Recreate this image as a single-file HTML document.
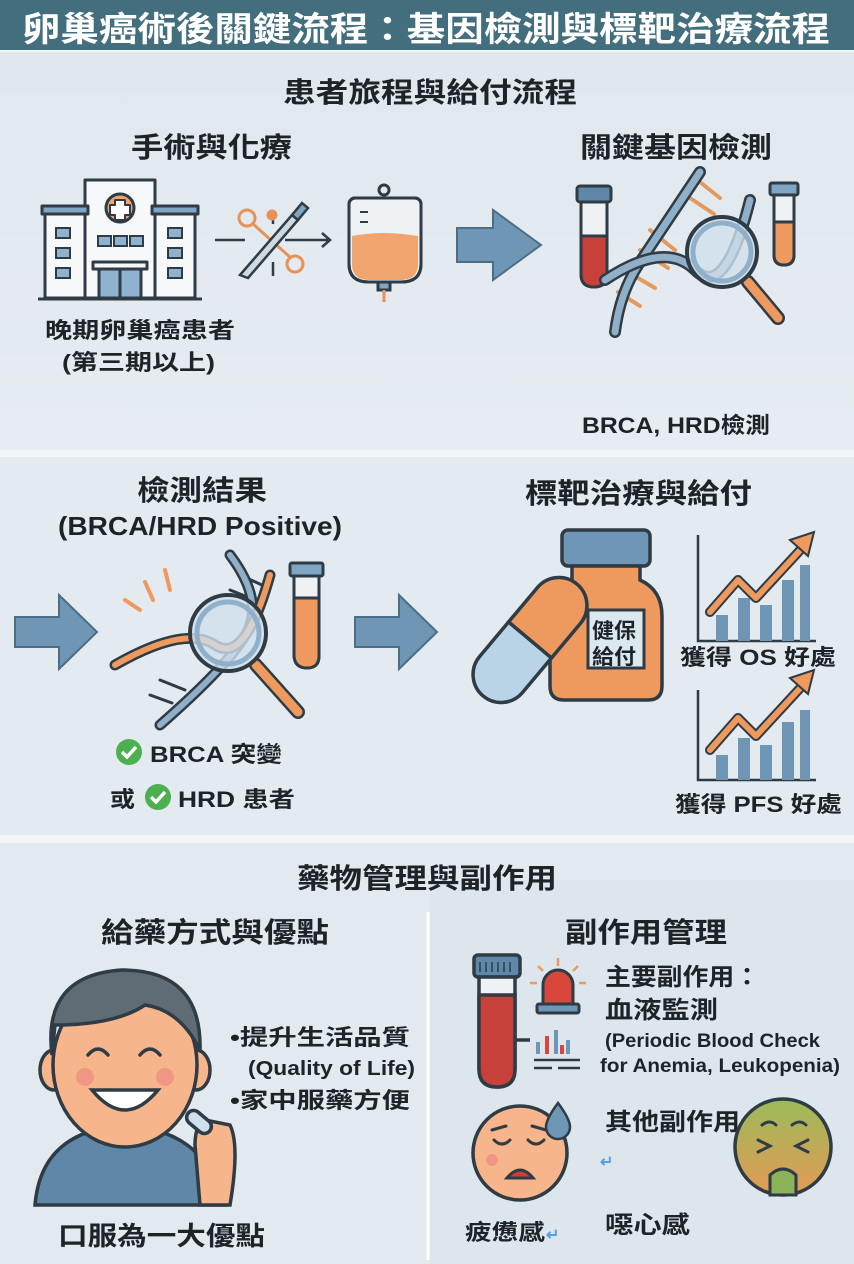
<!DOCTYPE html>
<html><head><meta charset="utf-8"><style>
html,body{margin:0;padding:0;background:#f3f6f8}
svg{display:block}
text{font-family:"Liberation Sans","Noto Sans CJK TC",sans-serif;font-weight:bold;fill:#1e2328}
</style></head><body>
<svg width="854" height="1264" viewBox="0 0 854 1264" xmlns="http://www.w3.org/2000/svg">
<defs>
<linearGradient id="g1" x1="0" y1="0" x2="0" y2="1"><stop offset="0" stop-color="#e0e8ee"/><stop offset="1" stop-color="#e6ecf1"/></linearGradient>
<linearGradient id="nau" x1="0" y1="0" x2="0" y2="1"><stop offset="0" stop-color="#9cbb5a"/><stop offset="1" stop-color="#e39a55"/></linearGradient>
</defs>
<rect x="0" y="0" width="854" height="1264" fill="#f3f6f8"/>
<!-- header -->
<rect x="0" y="0" width="854" height="50" fill="#426e7e"/>
<text x="22" y="41" font-size="34" fill="#fff" style="fill:#fff" textLength="808" lengthAdjust="spacingAndGlyphs">卵巢癌術後關鍵流程：基因檢測與標靶治療流程</text>
<!-- panels -->
<rect x="0" y="52" width="854" height="398" fill="url(#g1)"/>
<rect x="0" y="457" width="854" height="378" fill="#e3eaf0"/>
<rect x="0" y="843" width="854" height="421" fill="#e2e9ef"/>
<rect x="430" y="880" width="424" height="384" fill="#dde6ed"/>

<!-- Panel 1 texts -->
<text x="283" y="102" font-size="28" textLength="294" lengthAdjust="spacingAndGlyphs">患者旅程與給付流程</text>
<text x="131" y="157" font-size="28" textLength="161" lengthAdjust="spacingAndGlyphs">手術與化療</text>
<text x="580" y="157" font-size="28" textLength="192" lengthAdjust="spacingAndGlyphs">關鍵基因檢測</text>
<text x="45" y="338" font-size="22" textLength="190" lengthAdjust="spacingAndGlyphs">晚期卵巢癌患者</text>
<text x="62" y="370" font-size="22" textLength="153" lengthAdjust="spacingAndGlyphs">(第三期以上)</text>
<text x="582" y="433" font-size="22" textLength="188" lengthAdjust="spacingAndGlyphs">BRCA, HRD檢測</text>

<!-- hospital -->
<g stroke="#2f3b45" stroke-width="3" stroke-linejoin="round">
<rect x="85" y="180" width="70" height="118" fill="#f6f8fa"/>
<rect x="45" y="212" width="40" height="86" fill="#f6f8fa"/>
<rect x="155" y="212" width="40" height="86" fill="#f6f8fa"/>
<rect x="42" y="206" width="46" height="8" fill="#7fa6c4"/>
<rect x="152" y="206" width="46" height="8" fill="#7fa6c4"/>
<circle cx="120" cy="208" r="14" fill="#f0a46e"/>
<path d="M115 200h10v5h5v10h-5v5h-10v-5h-5v-10h5z" fill="#fff" stroke-width="2"/>
<rect x="99" y="268" width="42" height="30" fill="#8fb3cf"/>
<rect x="93" y="262" width="54" height="7" fill="#f6f8fa"/>
<line x1="120" y1="268" x2="120" y2="298"/>
<line x1="38" y1="299" x2="202" y2="299"/>
</g>
<g fill="#8fb3cf" stroke="#2f3b45" stroke-width="2">
<rect x="56" y="228" width="14" height="10"/><rect x="56" y="248" width="14" height="10"/><rect x="56" y="268" width="14" height="10"/>
<rect x="168" y="228" width="14" height="10"/><rect x="168" y="248" width="14" height="10"/><rect x="168" y="268" width="14" height="10"/>
<rect x="98" y="236" width="13" height="10"/><rect x="114" y="236" width="13" height="10"/><rect x="130" y="236" width="13" height="10"/>
</g>
<!-- scissors/scalpel -->
<g stroke="#2f3b45" stroke-width="2.5" fill="none">
<line x1="215" y1="240" x2="245" y2="240"/>
<line x1="285" y1="240" x2="330" y2="240"/><path d="M322 233l8 7-8 7"/>
<line x1="273" y1="210" x2="273" y2="224"/><line x1="273" y1="262" x2="273" y2="276"/>
</g>
<g stroke="#e8925a" stroke-width="3" fill="none">
<circle cx="247" cy="218" r="8"/><circle cx="295" cy="264" r="8"/>
<path d="M253 224l38 34"/><circle cx="272" cy="215" r="4" fill="#e8925a"/>
</g>
<path d="M240 275l52-60 6 5-50 58z" fill="#cfd9e2" stroke="#2f3b45" stroke-width="2.5"/>
<path d="M292 215l10-12 6 5-10 12z" fill="#7fa6c4" stroke="#2f3b45" stroke-width="2.5"/>
<!-- IV bag -->
<g stroke="#2f3b45" stroke-width="3">
<circle cx="384" cy="190" r="5" fill="none"/>
<path d="M355 198h60a6 6 0 0 1 6 6v60q0 18-20 18h-32q-20 0-20-18v-60a6 6 0 0 1 6-6z" fill="#eef2f5"/>
<path d="M352 236q30-6 66 0v28q0 16-18 16h-30q-18 0-18-16z" fill="#f0a46e" stroke="none"/>
<path d="M355 198h60a6 6 0 0 1 6 6v60q0 18-20 18h-32q-20 0-20-18v-60a6 6 0 0 1 6-6z" fill="none"/>
<rect x="378" y="282" width="12" height="8" fill="#7fa6c4"/>
<line x1="384" y1="290" x2="384" y2="302" stroke="#e8925a"/>
<line x1="360" y1="212" x2="368" y2="212" stroke-width="2"/><line x1="360" y1="222" x2="368" y2="222" stroke-width="2"/>
</g>
<!-- big arrow -->
<path d="M457 228h36v-18l48 35-48 35v-18h-36z" fill="#6f96b4" stroke="#4b6e88" stroke-width="2"/>
<!-- test tube left -->
<g stroke="#2f3b45" stroke-width="3">
<rect x="577" y="186" width="34" height="16" rx="3" fill="#5e87a8"/>
<path d="M581 202h26v72q0 13-13 13t-13-13z" fill="#eef2f5"/>
<path d="M581 236h26v38q0 13-13 13t-13-13z" fill="#c8403a"/>
</g>
<!-- dna + magnifier 1 -->
<g fill="none" stroke-linecap="round">
<g stroke="#e39a5e" stroke-width="4">
<line x1="650" y1="230" x2="675" y2="250"/><line x1="640" y1="250" x2="668" y2="268"/><line x1="628" y1="272" x2="655" y2="288"/><line x1="618" y1="292" x2="640" y2="306"/>
<line x1="690" y1="198" x2="714" y2="214"/><line x1="700" y1="182" x2="720" y2="198"/>
</g>
<path d="M700 172q-40 60-60 90t-25 70" stroke="#2f3b45" stroke-width="12"/>
<path d="M700 172q-40 60-60 90t-25 70" stroke="#8fb0c8" stroke-width="7"/>
<path d="M605 280q60-40 90-10t55 -70" stroke="#2f3b45" stroke-width="12"/>
<path d="M605 280q60-40 90-10t55 -70" stroke="#8fb0c8" stroke-width="7"/>
<line x1="748" y1="282" x2="778" y2="318" stroke="#2f3b45" stroke-width="14"/>
<line x1="748" y1="282" x2="778" y2="318" stroke="#ee9a5e" stroke-width="9"/>
</g>
<circle cx="722" cy="252" r="35" fill="#cfe0ec" fill-opacity="0.8" stroke="#2f3b45" stroke-width="4"/>
<circle cx="722" cy="252" r="29" fill="none" stroke="#8fb0c8" stroke-width="5"/>
<g stroke="#2f3b45" stroke-width="3">
<rect x="770" y="183" width="28" height="12" rx="2" fill="#7fa6c4"/>
<path d="M774 195h20v60q0 10-10 10t-10-10z" fill="#eef2f5"/>
<path d="M774 222h20v33q0 10-10 10t-10-10z" fill="#ee9a5e"/>
</g>

<!-- Panel 2 texts -->
<text x="137" y="500" font-size="28" textLength="130" lengthAdjust="spacingAndGlyphs">檢測結果</text>
<text x="58" y="535" font-size="26" textLength="284" lengthAdjust="spacingAndGlyphs">(BRCA/HRD Positive)</text>
<text x="525" y="503" font-size="28" textLength="227" lengthAdjust="spacingAndGlyphs">標靶治療與給付</text>
<!-- arrows -->
<path d="M15 617h44v-22l38 37-38 37v-22h-44z" fill="#6f96b4" stroke="#4b6e88" stroke-width="2"/>
<path d="M355 617h44v-22l38 37-38 37v-22h-44z" fill="#6f96b4" stroke="#4b6e88" stroke-width="2"/>
<!-- dna 2 -->
<g stroke="#ee9a5e" stroke-width="4" stroke-linecap="round">
<line x1="145" y1="582" x2="153" y2="600"/><line x1="125" y1="600" x2="140" y2="610"/><line x1="165" y1="570" x2="170" y2="590"/>
</g>
<g fill="none" stroke-linecap="round">
<g stroke="#2f3b45" stroke-width="3"><line x1="160" y1="680" x2="185" y2="690"/><line x1="150" y1="695" x2="172" y2="703"/><line x1="230" y1="590" x2="255" y2="600"/><line x1="240" y1="575" x2="262" y2="585"/></g>
<path d="M230 555q30 40 20 70t-90 100" stroke="#2f3b45" stroke-width="11"/>
<path d="M230 555q30 40 20 70t-90 100" stroke="#8fb0c8" stroke-width="6"/>
<path d="M115 665q70-40 100 -20t55-70" stroke="#2f3b45" stroke-width="11"/>
<path d="M115 665q70-40 100 -20t55-70" stroke="#ee9a5e" stroke-width="6"/>
<line x1="256" y1="665" x2="298" y2="712" stroke="#2f3b45" stroke-width="14"/>
<line x1="256" y1="665" x2="298" y2="712" stroke="#ee9a5e" stroke-width="9"/>
</g>
<circle cx="228" cy="633" r="38" fill="#cfe0ec" fill-opacity="0.8" stroke="#2f3b45" stroke-width="4"/>
<circle cx="228" cy="633" r="31" fill="none" stroke="#8fb0c8" stroke-width="5"/>
<g stroke="#2f3b45" stroke-width="3">
<rect x="290" y="563" width="33" height="13" rx="2" fill="#7fa6c4"/>
<path d="M294 576h25v80q0 12-12 12t-13-12z" fill="#eef2f5"/>
<path d="M294 598h25v58q0 12-12 12t-13-12z" fill="#ee9a5e"/>
</g>
<!-- checks -->
<circle cx="129" cy="752" r="13" fill="#4caf50"/><path d="M122 752l5 5 9-10" stroke="#fff" stroke-width="3.5" fill="none"/>
<text x="150" y="762" font-size="22" textLength="132" lengthAdjust="spacingAndGlyphs">BRCA 突變</text>
<text x="110" y="807" font-size="22" textLength="25" lengthAdjust="spacingAndGlyphs">或</text>
<circle cx="158" cy="797" r="13" fill="#4caf50"/><path d="M151 797l5 5 9-10" stroke="#fff" stroke-width="3.5" fill="none"/>
<text x="178" y="807" font-size="22" textLength="117" lengthAdjust="spacingAndGlyphs">HRD 患者</text>
<!-- bottle -->
<g stroke="#2f3b45" stroke-width="3.5">
<rect x="562" y="530" width="88" height="36" rx="6" fill="#6f96b4"/>
<path d="M572 566h68v14q22 10 22 36v70q0 14-14 14h-84q-14 0-14-14v-70q0-26 22-36z" fill="#ee9a5e"/>
<rect x="588" y="610" width="56" height="58" fill="#dce8f0" stroke-width="3"/>
</g>
<text x="592" y="638" font-size="21" textLength="44" lengthAdjust="spacingAndGlyphs">健保</text>
<text x="592" y="664" font-size="21" textLength="44" lengthAdjust="spacingAndGlyphs">給付</text>
<!-- capsule -->
<g transform="rotate(-50 530 640)" stroke="#2f3b45" stroke-width="3.5">
<path d="M530 612h45a28 28 0 0 1 0 56h-45z" fill="#ee9a5e"/>
<path d="M530 612h-45a28 28 0 0 0 0 56h45z" fill="#b9d4e6"/>
</g>
<!-- charts -->
<g stroke="#2f3b45" stroke-width="2.5" fill="none">
<path d="M698 535v106h118"/><path d="M698 690v90h118"/>
</g>
<g fill="#6f96b4">
<rect x="716" y="615" width="12" height="26"/><rect x="738" y="598" width="12" height="43"/><rect x="760" y="605" width="12" height="36"/><rect x="782" y="580" width="12" height="61"/><rect x="800" y="565" width="10" height="76"/>
<rect x="716" y="755" width="12" height="25"/><rect x="738" y="738" width="12" height="42"/><rect x="760" y="745" width="12" height="35"/><rect x="782" y="722" width="12" height="58"/><rect x="800" y="710" width="10" height="70"/>
</g>
<g fill="none" stroke-linejoin="round" stroke-linecap="round">
<path d="M710 612l28-32 18 18 48-52" stroke="#2f3b45" stroke-width="10"/>
<path d="M710 612l28-32 18 18 48-52" stroke="#ee9a5e" stroke-width="6"/>
<path d="M710 750l28-32 18 18 48-52" stroke="#2f3b45" stroke-width="10"/>
<path d="M710 750l28-32 18 18 48-52" stroke="#ee9a5e" stroke-width="6"/>
</g>
<path d="M790 540l24-8-6 24z" fill="#ee9a5e" stroke="#2f3b45" stroke-width="2"/>
<path d="M790 678l24-8-6 24z" fill="#ee9a5e" stroke="#2f3b45" stroke-width="2"/>
<text x="680" y="665" font-size="22" textLength="156" lengthAdjust="spacingAndGlyphs">獲得 OS 好處</text>
<text x="675" y="812" font-size="22" textLength="167" lengthAdjust="spacingAndGlyphs">獲得 PFS 好處</text>

<!-- Panel 3 -->
<text x="297" y="888" font-size="28" textLength="260" lengthAdjust="spacingAndGlyphs">藥物管理與副作用</text>
<line x1="428" y1="912" x2="428" y2="1260" stroke="#ffffff" stroke-width="3"/>
<text x="101" y="942" font-size="28" textLength="228" lengthAdjust="spacingAndGlyphs">給藥方式與優點</text>
<text x="565" y="942" font-size="28" textLength="162" lengthAdjust="spacingAndGlyphs">副作用管理</text>
<!-- person -->
<g stroke="#2f3b45" stroke-width="3.5">
<path d="M35 1205q5-60 60-75h60q55 15 70 75z" fill="#5e87a8"/>
<rect x="100" y="1110" width="50" height="30" fill="#f6b58a"/>
<ellipse cx="54" cy="1070" rx="14" ry="20" fill="#f6b58a"/>
<ellipse cx="196" cy="1070" rx="14" ry="20" fill="#f6b58a"/>
<ellipse cx="125" cy="1065" rx="72" ry="82" fill="#f6b58a"/>
<path d="M52 1055q-10-80 70-85q80 0 78 80q-20-40-55-45q-30 20-90 20z" fill="#5f6b75"/>
<path d="M92 1090q33 40 66 0z" fill="#fff"/>
<path d="M200 1205l-5-60q0-20 10-25l25 5q10 20 0 80z" fill="#f6b58a"/>
<rect x="185" y="1115" width="28" height="14" rx="7" transform="rotate(40 199 1122)" fill="#cfe0ec"/>
</g>
<g stroke="#2f3b45" stroke-width="3.5" fill="none" stroke-linecap="round">
<path d="M88 1055q10-12 20 0"/><path d="M140 1055q10-12 20 0"/>
</g>
<circle cx="85" cy="1077" r="9" fill="#ef8a80" opacity="0.7"/><circle cx="165" cy="1077" r="9" fill="#ef8a80" opacity="0.7"/>
<text x="230" y="1045" font-size="22" textLength="180" lengthAdjust="spacingAndGlyphs">•提升生活品質</text>
<text x="248" y="1075" font-size="20" textLength="167" lengthAdjust="spacingAndGlyphs">(Quality of Life)</text>
<text x="230" y="1108" font-size="22" textLength="180" lengthAdjust="spacingAndGlyphs">•家中服藥方便</text>
<text x="58" y="1245" font-size="26" textLength="207" lengthAdjust="spacingAndGlyphs">口服為一大優點</text>
<!-- blood tube -->
<g stroke="#2f3b45" stroke-width="3.5">
<rect x="474" y="955" width="46" height="22" rx="4" fill="#5e87a8"/>
<path d="M479 977h36v92q0 18-18 18t-18-18z" fill="#eef2f5"/>
<path d="M479 995h36v74q0 18-18 18t-18-18z" fill="#c8403a"/>
<line x1="515" y1="1040" x2="530" y2="1040"/>
</g>
<g stroke="#2f3b45" stroke-width="1.5">
<line x1="480" y1="962" x2="480" y2="972"/><line x1="486" y1="962" x2="486" y2="972"/><line x1="492" y1="962" x2="492" y2="972"/><line x1="498" y1="962" x2="498" y2="972"/><line x1="504" y1="962" x2="504" y2="972"/><line x1="510" y1="962" x2="510" y2="972"/>
</g>
<!-- alarm -->
<path d="M543 1005v-20a15 15 0 0 1 30 0v20z" fill="#d9463c" stroke="#2f3b45" stroke-width="3"/>
<rect x="537" y="1004" width="42" height="9" rx="2" fill="#6f96b4" stroke="#2f3b45" stroke-width="3"/>
<g stroke="#ee9a5e" stroke-width="2.5"><line x1="558" y1="958" x2="558" y2="966"/><line x1="538" y1="966" x2="543" y2="971"/><line x1="578" y1="966" x2="573" y2="971"/><line x1="530" y1="983" x2="537" y2="983"/><line x1="579" y1="983" x2="586" y2="983"/></g>
<g fill="#6f96b4"><rect x="536" y="1042" width="4" height="12"/><rect x="554" y="1030" width="4" height="24"/><rect x="566" y="1040" width="4" height="14"/></g>
<g fill="#d9463c"><rect x="545" y="1036" width="4" height="18"/><rect x="560" y="1045" width="4" height="9"/></g>
<g stroke="#2f3b45" stroke-width="2.5"><line x1="534" y1="1060" x2="580" y2="1060"/><line x1="534" y1="1068" x2="552" y2="1068"/><line x1="558" y1="1068" x2="580" y2="1068"/></g>
<text x="605" y="985" font-size="24" textLength="155" lengthAdjust="spacingAndGlyphs">主要副作用：</text>
<text x="605" y="1018" font-size="24" textLength="113" lengthAdjust="spacingAndGlyphs">血液監測</text>
<text x="605" y="1047" font-size="19" textLength="215" lengthAdjust="spacingAndGlyphs">(Periodic Blood Check</text>
<text x="600" y="1072" font-size="19" textLength="240" lengthAdjust="spacingAndGlyphs">for Anemia, Leukopenia)</text>
<!-- tired face -->
<circle cx="520" cy="1153" r="47" fill="#f6b58a" stroke="#2f3b45" stroke-width="3.5"/>
<g stroke="#2f3b45" stroke-width="3" fill="none" stroke-linecap="round"><path d="M494 1140q8 8 16 0"/><path d="M528 1140q8 8 16 0"/><path d="M492 1130l14-4"/><path d="M546 1130l-14-4"/></g>
<path d="M507 1178q13-16 26 0z" fill="#c8403a" stroke="#2f3b45" stroke-width="3"/>
<circle cx="492" cy="1160" r="6" fill="#ef8a80" opacity="0.7"/>
<path d="M558 1103q-12 16-12 24a12 12 0 0 0 24 0q0-8-12-24z" fill="#6f96b4" stroke="#2f3b45" stroke-width="2.5"/>
<text x="605" y="1130" font-size="24" textLength="135" lengthAdjust="spacingAndGlyphs">其他副作用</text>
<!-- nausea face -->
<circle cx="783" cy="1147" r="48" fill="url(#nau)" stroke="#2f3b45" stroke-width="3.5"/>
<g stroke="#2f3b45" stroke-width="3" fill="none" stroke-linecap="round"><path d="M758 1140l12 6-12 6"/><path d="M808 1140l-12 6 12 6"/><path d="M762 1125q8-6 14 0"/><path d="M792 1125q8-6 14 0"/></g>
<path d="M770 1175q13-12 26 0v20h-26z" fill="#8bb35a" stroke="#2f3b45" stroke-width="3"/>
<text x="602" y="1110" font-size="0"> </text>
<text x="600" y="1167" font-size="16" style="fill:#5aa0e6">↵</text>
<text x="465" y="1240" font-size="22" textLength="80" lengthAdjust="spacingAndGlyphs">疲憊感</text>
<text x="546" y="1240" font-size="16" style="fill:#5aa0e6">↵</text>
<text x="605" y="1233" font-size="24" textLength="85" lengthAdjust="spacingAndGlyphs">噁心感</text>
</svg>
</body></html>
